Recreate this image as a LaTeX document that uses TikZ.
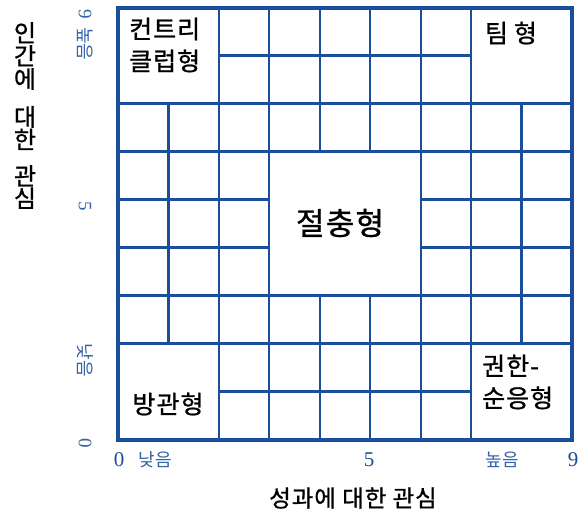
\documentclass[tikz,border=0pt]{standalone}
\usepackage{fontspec}
\setmainfont{Liberation Serif}
\newfontfamily\kr[FakeBold=0.9,LetterSpace=4]{Noto Sans CJK KR}
\newfontfamily\krl{Noto Sans CJK KR}
\definecolor{gridblue}{HTML}{1A4E98}
\definecolor{axblue}{HTML}{3463A8}
\begin{document}
\begin{tikzpicture}[x=1pt,y=-1pt,
  inner/.style={draw=gridblue,line width=2.3pt},
  outer/.style={draw=gridblue,line width=4pt},
  cell/.style={font=\kr\fontsize{25}{32}\selectfont,align=left,inner sep=0pt},
  ticklbl/.style={text=axblue,font=\krl\fontsize{18}{20}\selectfont,inner sep=0pt},
  numlbl/.style={text=gridblue,font=\fontsize{21}{22}\selectfont,inner sep=0pt},
  sidenum/.style={text=axblue,font=\fontsize{19}{20}\selectfont,inner sep=0pt},
  ttl/.style={font=\kr\fontsize{23.5}{22}\selectfont,inner sep=0pt,align=center}]
\useasboundingbox (0,0) rectangle (579,515);
\def\cw{50.444}
\def\rh{48}
% horizontal inner lines
\draw[inner] ({118+2*\cw},{7.5+1*\rh}) -- ({118+7*\cw},{7.5+1*\rh});
\draw[inner] (118,{7.5+2*\rh}) -- (572,{7.5+2*\rh});
\draw[inner] (118,{7.5+3*\rh}) -- (572,{7.5+3*\rh});
\foreach \k in {4,5}{
  \draw[inner] (118,{7.5+\k*\rh}) -- ({118+3*\cw},{7.5+\k*\rh});
  \draw[inner] ({118+6*\cw},{7.5+\k*\rh}) -- (572,{7.5+\k*\rh});
}
\draw[inner] (118,{7.5+6*\rh}) -- (572,{7.5+6*\rh});
\draw[inner] (118,{7.5+7*\rh}) -- (572,{7.5+7*\rh});
\draw[inner] ({118+2*\cw},{7.5+8*\rh}) -- ({118+7*\cw},{7.5+8*\rh});
% vertical inner lines
\foreach \i in {1,8}
  \draw[inner] ({118+\i*\cw},{7.5+2*\rh}) -- ({118+\i*\cw},{7.5+7*\rh});
\foreach \i in {2,3,6,7}
  \draw[inner] ({118+\i*\cw},7.5) -- ({118+\i*\cw},439.5);
\foreach \i in {4,5}{
  \draw[inner] ({118+\i*\cw},7.5) -- ({118+\i*\cw},{7.5+3*\rh});
  \draw[inner] ({118+\i*\cw},{7.5+6*\rh}) -- ({118+\i*\cw},439.5);
}
% outer frame
\draw[outer] (118,7.5) rectangle (572,439.5);
% cell labels
\node[cell,anchor=west] (cc) at (129,45) {컨트리\\클럽형};
\node[cell] (team) at (511,33) {팀\hspace{6pt}형};
\node[cell,font=\kr\fontsize{31}{34}\selectfont] (mid) at (340,223) {절충형};
\node[cell] (imp) at (168,404) {방관형};
\node[cell,anchor=west] (auth) at (482,382) {권한-\\순응형};
% left axis title
\node[ttl,font=\kr\fontsize{24}{23}\selectfont] (t1) at (25,56) {인\\간\\에};
\node[ttl,font=\kr\fontsize{24}{20}\selectfont] (t2) at (25,128) {대\\한};
\node[ttl,font=\kr\fontsize{24}{20}\selectfont] (t3) at (25,187) {관\\심};
% left ticks
\node[sidenum,rotate=-90,anchor=west] (l9) at (85,9) {9};
\node[ticklbl,rotate=-90,anchor=west] (lhi) at (85,27) {높음};
\node[sidenum,rotate=-90] (l5) at (85,206) {5};
\node[ticklbl,rotate=-90] (llo) at (85,360) {낮음};
\node[sidenum,rotate=-90] (l0) at (85,443.5) {0};
% bottom ticks
\node[numlbl] (b0) at (119,460) {0};
\node[ticklbl] (blo) at (155,460) {낮음};
\node[numlbl] (b5) at (369,460) {5};
\node[ticklbl] (bhi) at (502,460) {높음};
\node[numlbl] (b9) at (573,460) {9};
% bottom title
\node[ttl] (bt) at (353,498) {성과에 대한 관심};
\end{tikzpicture}
\end{document}
